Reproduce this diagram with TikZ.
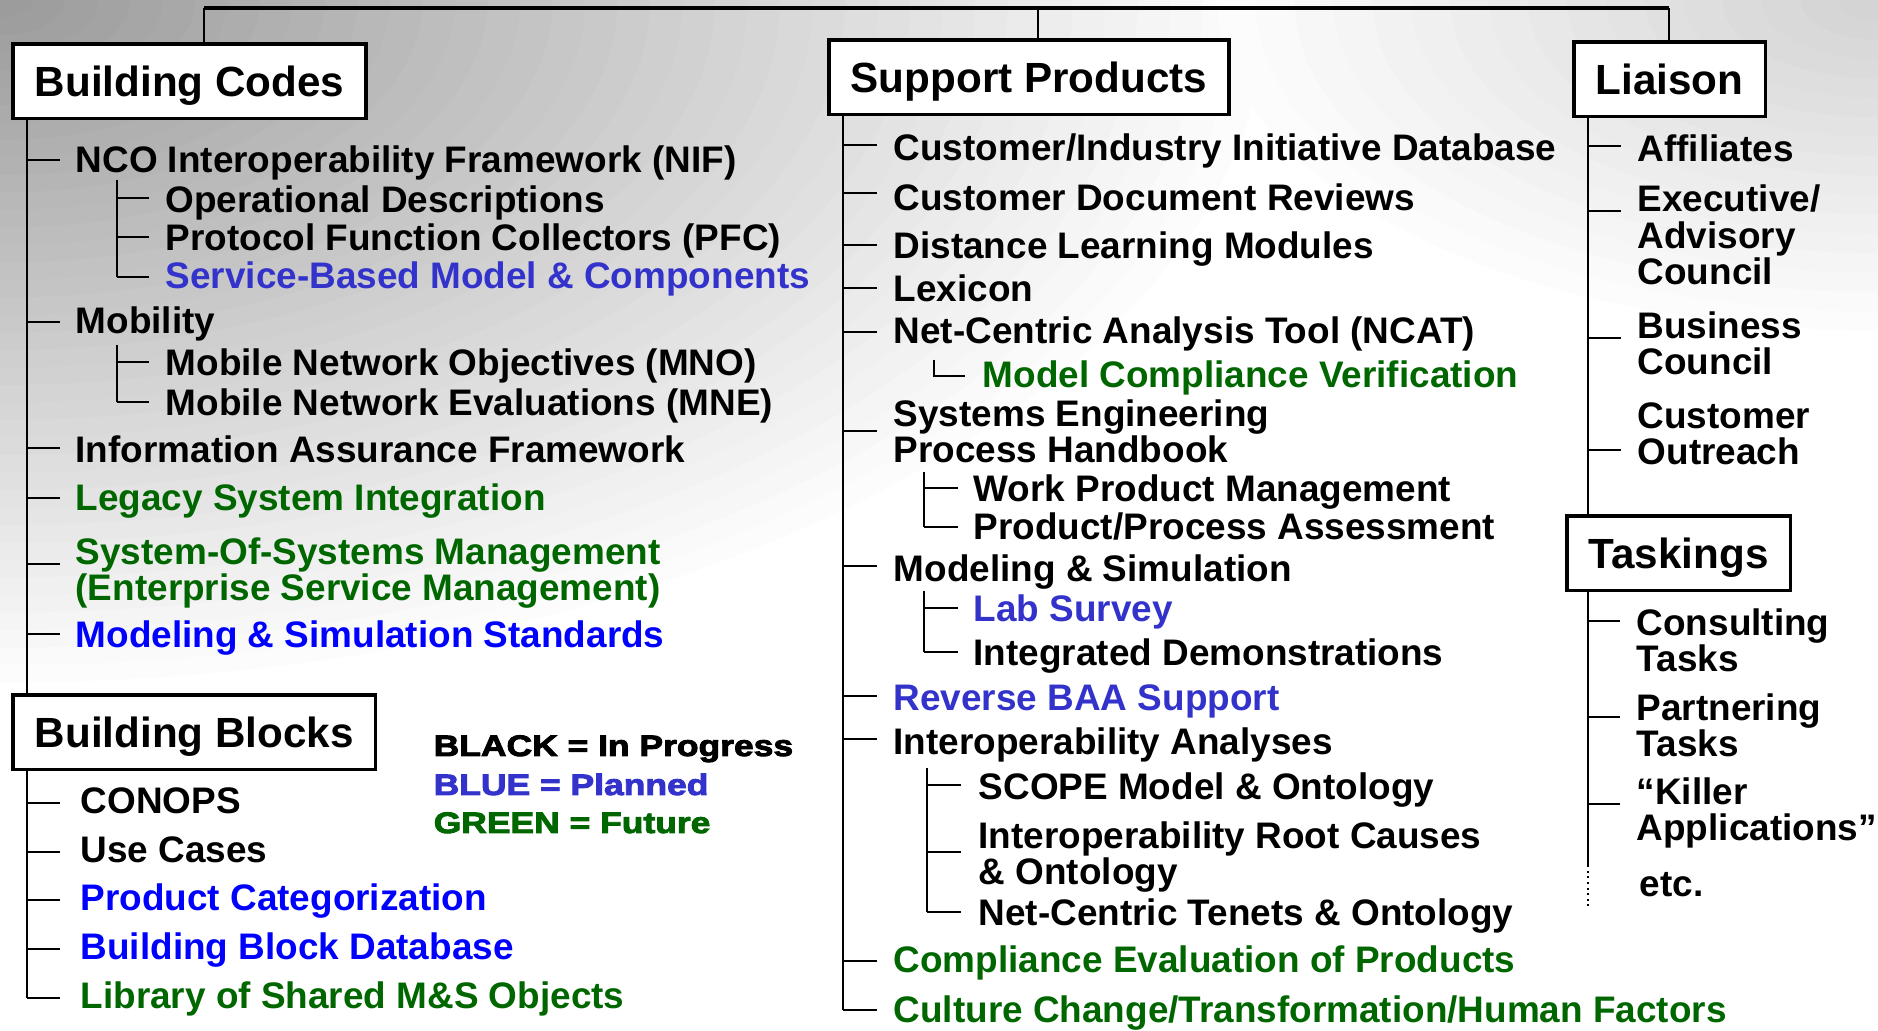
\documentclass[tikz,border=0pt]{standalone}
\usepackage{fontspec}
\setmainfont{Liberation Sans}
\newfontfamily\legendfont{Liberation Sans}[UprightFont={* Bold},FakeStretch=1.2,FakeBold=3]
\usetikzlibrary{calc}

\definecolor{planblue}{HTML}{3333CC}
\definecolor{stdblue}{HTML}{0000FF}
\definecolor{futgreen}{HTML}{006600}

\newcommand{\itemfont}{\bfseries\fontsize{10.5}{10.5}\selectfont}
\newcommand{\headfont}{\bfseries\fontsize{12}{14}\selectfont}

\begin{document}
\begin{tikzpicture}[x=0.01cm,y=-0.01cm,
  head/.style={draw,line width=1pt,fill=white,anchor=north west,inner xsep=6.26pt,inner ysep=0pt,text height=15.1pt,text depth=6.2pt,font=\headfont},
  item/.style={anchor=base west,inner sep=0pt,align=left,font=\itemfont},
  legend/.style={anchor=base west,inner sep=0pt,font=\legendfont\fontsize{8.4}{10}\selectfont},
  rail/.style={line width=1.2pt},
  link/.style={line width=0.6pt},
  thinlink/.style={line width=0.4pt}]
	%\draw[help lines, step=100] (0,0) grid (1878,1031);
	\useasboundingbox (0,0) rectangle (1878,1031);
	\begin{scope}
		\clip (0,0) rectangle (1878,1031);
		\fill[white] (0,0) rectangle (1878,1031);
		\foreach \i in {0,...,39}
			\fill[black!\i] (0,0) ellipse [x radius=1300-32.5*\i, y radius=700-17.5*\i];
		\foreach \i in {1,...,18}
			\fill[black!\i] (1878,0) ellipse [x radius=700-38.9*\i, y radius=350-19.4*\i];
	\end{scope}

	\node[head] (bc) at (11,42) {Building Codes};
	\node[head] (sp) at (827,38) {Support Products};
	\node[head] (li) at (1572,40) {Liaison};
	\node[head] (bb) at (11,693) {Building Blocks};
	\node[head] (tk) at (1565,514) {Taskings};

	\coordinate (rbc) at (204,8);
	\coordinate (rsp) at (1038,8);
	\coordinate (rli) at (1669,8);
	\draw[rail] (rbc) -- (rli);
	\draw[link] (rbc) -- (rbc |- bc.north);
	\draw[link] (rsp) -- (rsp |- sp.north);
	\draw[link] (rli) -- (rli |- li.north);

	% building codes
	\node[item] (bc1) at (75,173) {NCO Interoperability Framework (NIF)};
	\node[item] (nif1) at (165,213) {Operational Descriptions};
	\node[item] (nif2) at (165,251) {Protocol Function Collectors (PFC)};
	\node[item,planblue] (nif3) at (165,289) {Service-Based Model \& Components};
	\node[item] (bc2) at (75,334) {Mobility};
	\node[item] (mob1) at (165,376) {Mobile Network Objectives (MNO)};
	\node[item] (mob2) at (165,416) {Mobile Network Evaluations (MNE)};
	\node[item] (bc3) at (75,463) {Information Assurance Framework};
	\node[item,futgreen] (bc4) at (75,511) {Legacy System Integration};
	\node[item,futgreen] (bc5) at (75,601) {System-Of-Systems Management\\(Enterprise Service Management)};
	\node[item,stdblue] (bc6) at (75,648) {Modeling \& Simulation Standards};

	\coordinate (bct) at (27,0);
	\coordinate (nift) at (117,180);
	\coordinate (mobt) at (117,345);
	\foreach \n/\d in {bc1/-13,bc2/-12,bc3/-15,bc4/-13,bc5/-37,bc6/-14}
		\draw[link] ($(\n.base west)+(0,\d)$) coordinate (t\n) (t\n -| bct) -- ++(33,0);
	\draw[link] (bc.south -| bct) -- (bb.north -| bct);
	\foreach \n/\d in {nif1/-15,nif2/-14,nif3/-12}
		\draw[link] ($(\n.base west)+(0,\d)$) coordinate (t\n) (t\n -| nift) -- ++(32,0);
	\draw[link] (nift) -- (tnif3 -| nift);
	\foreach \n/\d in {mob1/-14,mob2/-14}
		\draw[link] ($(\n.base west)+(0,\d)$) coordinate (t\n) (t\n -| mobt) -- ++(32,0);
	\draw[link] (mobt) -- (tmob2 -| mobt);

	% building blocks
	\node[item] (bb1) at (80,814) {CONOPS};
	\node[item] (bb2) at (80,863) {Use Cases};
	\node[item,stdblue] (bb3) at (80,911) {Product Categorization};
	\node[item,stdblue] (bb4) at (80,960) {Building Block Database};
	\node[item,futgreen] (bb5) at (80,1009) {Library of Shared M\&S Objects};
	\foreach \n/\d in {bb1/-11,bb2/-11,bb3/-11,bb4/-11,bb5/-11}
		\draw[link] ($(\n.base west)+(0,\d)$) coordinate (t\n) (t\n -| bct) -- ++(33,0);
	\draw[link] (bb.south -| bct) -- (tbb5 -| bct);

	\node[legend] (leg1) at (433,756) {BLACK = In Progress};
	\node[legend,planblue] (leg2) at (433,795) {BLUE = Planned};
	\node[legend,futgreen] (leg3) at (433,833) {GREEN = Future};

	% support products
	\node[item] (sp1) at (893,161) {Customer/Industry Initiative Database};
	\node[item] (sp2) at (893,211) {Customer Document Reviews};
	\node[item] (sp3) at (893,259) {Distance Learning Modules};
	\node[item] (sp4) at (893,302) {Lexicon};
	\node[item] (sp5) at (893,344) {Net-Centric Analysis Tool (NCAT)};
	\node[item,futgreen] (ncat1) at (982,388) {Model Compliance Verification};
	\node[item] (sp6) at (893,463) {Systems Engineering\\Process Handbook};
	\node[item] (seh1) at (973,502) {Work Product Management};
	\node[item] (seh2) at (973,540) {Product/Process Assessment};
	\node[item] (sp7) at (893,582) {Modeling \& Simulation};
	\node[item,planblue] (ms1) at (973,622) {Lab Survey};
	\node[item] (ms2) at (973,666) {Integrated Demonstrations};
	\node[item,planblue] (sp8) at (893,711) {Reverse BAA Support};
	\node[item] (sp9) at (893,755) {Interoperability Analyses};
	\node[item] (ia1) at (978,800) {SCOPE Model \& Ontology};
	\node[item] (ia2) at (978,885) {Interoperability Root Causes\\\& Ontology};
	\node[item] (ia3) at (978,926) {Net-Centric Tenets \& Ontology};
	\node[item,futgreen] (sp10) at (893,973) {Compliance Evaluation of Products};
	\node[item,futgreen] (sp11) at (893,1023) {Culture Change/Transformation/Human Factors};

	\coordinate (spt) at (843,0);
	\coordinate (seht) at (924,472);
	\coordinate (mst) at (924,591);
	\coordinate (iat) at (927,768);
	\foreach \n/\d in {sp1/-16,sp2/-18,sp3/-14,sp4/-14,sp5/-12,sp6/-32,sp7/-16,sp8/-15,sp9/-16,sp10/-12,sp11/-13}
		\draw[link] ($(\n.base west)+(0,\d)$) coordinate (t\n) (t\n -| spt) -- ++(34,0);
	\draw[link] (sp.south -| spt) -- (tsp11 -| spt);
	\draw[thinlink] ($(ncat1.base west)+(-48,-28)$) |- ($(ncat1.base west)+(-17,-12)$);
	\foreach \n/\d in {seh1/-14,seh2/-13}
		\draw[link] ($(\n.base west)+(0,\d)$) coordinate (t\n) (t\n -| seht) -- ++(34,0);
	\draw[link] (seht) -- (tseh2 -| seht);
	\foreach \n/\d in {ms1/-14,ms2/-14}
		\draw[link] ($(\n.base west)+(0,\d)$) coordinate (t\n) (t\n -| mst) -- ++(34,0);
	\draw[link] (mst) -- (tms2 -| mst);
	\foreach \n/\d in {ia1/-15,ia2/-33,ia3/-14}
		\draw[link] ($(\n.base west)+(0,\d)$) coordinate (t\n) (t\n -| iat) -- ++(34,0);
	\draw[link] (iat) -- (tia3 -| iat);

	% liaison and taskings
	\node[item] (li1) at (1637,162) {Affiliates};
	\node[item] (li2) at (1637,285) {Executive/\\Advisory\\Council};
	\node[item] (li3) at (1637,375) {Business\\Council};
	\node[item] (li4) at (1637,465) {Customer\\Outreach};
	\node[item] (tk1) at (1636,672) {Consulting\\Tasks};
	\node[item] (tk2) at (1636,757) {Partnering\\Tasks};
	\node[item] (tk3) at (1636,841) {“Killer\\Applications”};
	\node[item] (tk4) at (1639,897) {etc.};

	\coordinate (lit) at (1588,0);
	\foreach \n/\d in {li1/-16,li2/-74,li3/-37,li4/-15}
		\draw[link] ($(\n.base west)+(0,\d)$) coordinate (t\n) (t\n -| lit) -- ++(33,0);
	\draw[link] (li.south -| lit) -- (tk.north -| lit);
	\foreach \n/\d in {tk1/-51,tk2/-40,tk3/-37}
		\draw[link] ($(\n.base west)+(0,\d)$) coordinate (t\n) (t\n -| lit) -- ++(32,0);
	\coordinate (tkend) at ($(tk4.base west)+(0,-32)$);
	\coordinate (tkdots) at ($(tk4.base west)+(0,13)$);
	\draw[link] (tk.south -| lit) -- (tkend -| lit);
	\draw[link,densely dotted] (tkend -| lit) -- (tkdots -| lit);
\end{tikzpicture}
\end{document}
